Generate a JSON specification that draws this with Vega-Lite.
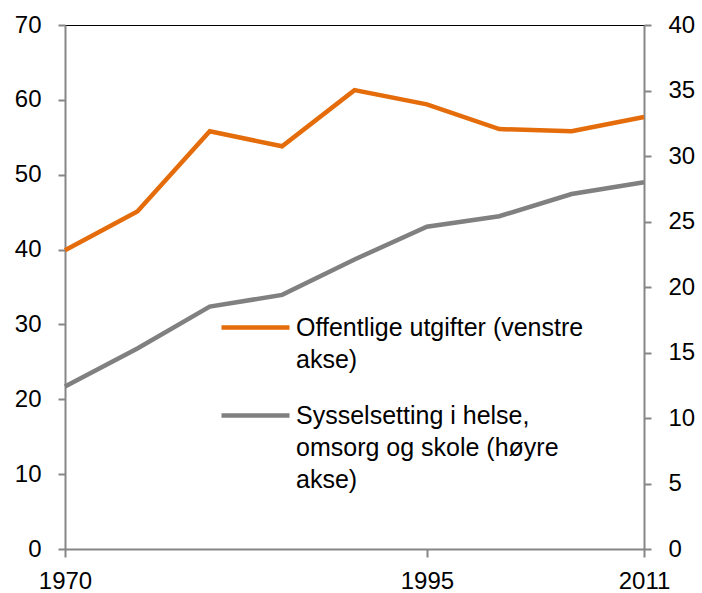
{
  "$schema": "https://vega.github.io/schema/vega-lite/v6.json",
  "width": 579,
  "height": 524,
  "autosize": {"type": "none"},
  "padding": {"left": 65, "top": 25, "right": 58, "bottom": 44},
  "background": "white",
  "config": {
    "view": {"stroke": "#000000", "strokeWidth": 1},
    "font": "Liberation Sans",
    "axis": {
      "grid": false,
      "domainColor": "#868686",
      "domainWidth": 2,
      "tickColor": "#868686",
      "tickWidth": 2,
      "tickSize": 7,
      "labelFont": "Liberation Sans",
      "labelFontSize": 24,
      "labelColor": "#000000",
      "title": null
    }
  },
  "data": {
    "values": [
      {"year": 1970, "serie": "Offentlige utgifter (venstre akse)", "value": 39.9},
      {"year": 1975, "serie": "Offentlige utgifter (venstre akse)", "value": 45.1},
      {"year": 1980, "serie": "Offentlige utgifter (venstre akse)", "value": 55.8},
      {"year": 1985, "serie": "Offentlige utgifter (venstre akse)", "value": 53.8},
      {"year": 1990, "serie": "Offentlige utgifter (venstre akse)", "value": 61.3},
      {"year": 1995, "serie": "Offentlige utgifter (venstre akse)", "value": 59.4},
      {"year": 2000, "serie": "Offentlige utgifter (venstre akse)", "value": 56.1},
      {"year": 2005, "serie": "Offentlige utgifter (venstre akse)", "value": 55.8},
      {"year": 2011, "serie": "Offentlige utgifter (venstre akse)", "value": 57.7},
      {"year": 1970, "serie": "Sysselsetting i helse, omsorg og skole (høyre akse)", "value": 12.4},
      {"year": 1975, "serie": "Sysselsetting i helse, omsorg og skole (høyre akse)", "value": 15.3},
      {"year": 1980, "serie": "Sysselsetting i helse, omsorg og skole (høyre akse)", "value": 18.5},
      {"year": 1985, "serie": "Sysselsetting i helse, omsorg og skole (høyre akse)", "value": 19.4},
      {"year": 1990, "serie": "Sysselsetting i helse, omsorg og skole (høyre akse)", "value": 22.1},
      {"year": 1995, "serie": "Sysselsetting i helse, omsorg og skole (høyre akse)", "value": 24.6},
      {"year": 2000, "serie": "Sysselsetting i helse, omsorg og skole (høyre akse)", "value": 25.4},
      {"year": 2005, "serie": "Sysselsetting i helse, omsorg og skole (høyre akse)", "value": 27.1},
      {"year": 2011, "serie": "Sysselsetting i helse, omsorg og skole (høyre akse)", "value": 28.0}
    ]
  },
  "encoding": {
    "x": {
      "field": "year",
      "type": "ordinal",
      "scale": {"type": "point", "padding": 0},
      "axis": {"values": [1970, 1995, 2011], "labelAngle": 0, "tickSize": 8, "labelPadding": 12}
    },
    "color": {
      "field": "serie",
      "type": "nominal",
      "scale": {
        "domain": ["Offentlige utgifter (venstre akse)", "Sysselsetting i helse, omsorg og skole (høyre akse)"],
        "range": ["#E46C0A", "#808080"]
      },
      "legend": {
        "orient": "none",
        "legendX": 154,
        "legendY": 266,
        "title": null,
        "padding": 0,
        "symbolType": "stroke",
        "symbolSize": 4624,
        "symbolStrokeWidth": 4.5,
        "labelFont": "Liberation Sans",
        "labelFontSize": 25,
        "labelColor": "#000000",
        "labelOffset": 4,
        "labelLimit": 500,
        "rowPadding": 6,
        "encode": {"labels": {"update": {"lineHeight": {"value": 32}}}},
        "labelExpr": "datum.label == 'Offentlige utgifter (venstre akse)' ? ['Offentlige utgifter (venstre', 'akse)'] : ['Sysselsetting i helse,', 'omsorg og skole (høyre', 'akse)']"
      }
    }
  },
  "layer": [
    {
      "transform": [{"filter": "datum.serie == 'Offentlige utgifter (venstre akse)'"}],
      "mark": {"type": "line", "strokeWidth": 4.5},
      "encoding": {
        "y": {
          "field": "value",
          "type": "quantitative",
          "scale": {"domain": [0, 70], "nice": false},
          "axis": {"orient": "left", "values": [0, 10, 20, 30, 40, 50, 60, 70], "labelPadding": 17}
        }
      }
    },
    {
      "transform": [{"filter": "datum.serie != 'Offentlige utgifter (venstre akse)'"}],
      "mark": {"type": "line", "strokeWidth": 4.5},
      "encoding": {
        "y": {
          "field": "value",
          "type": "quantitative",
          "scale": {"domain": [0, 40], "nice": false},
          "axis": {"orient": "right", "values": [0, 5, 10, 15, 20, 25, 30, 35, 40], "labelPadding": 17}
        }
      }
    }
  ],
  "resolve": {"scale": {"y": "independent"}}
}
